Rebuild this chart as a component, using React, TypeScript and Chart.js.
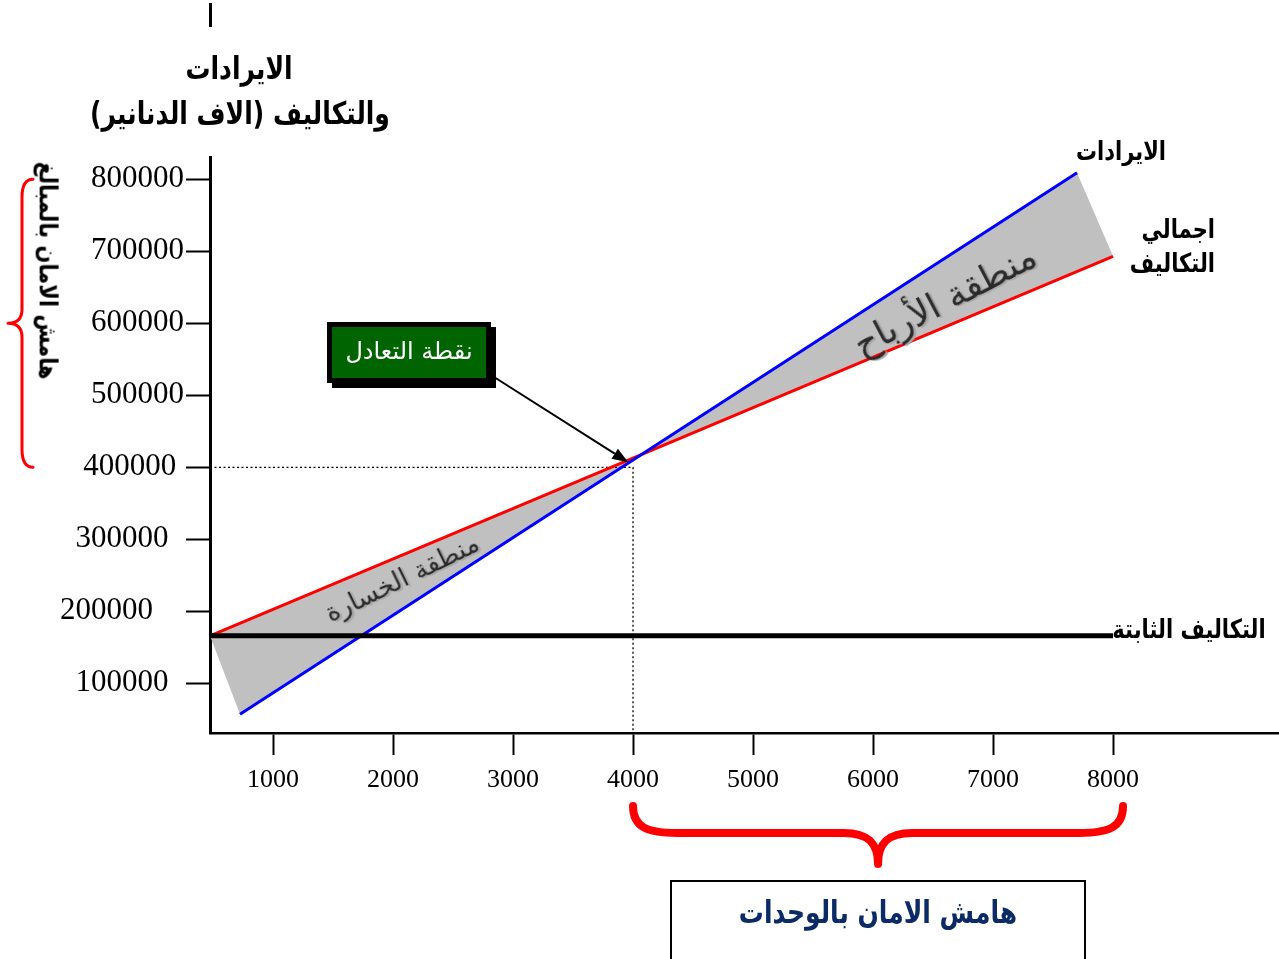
import React, { useEffect, useRef } from 'react';
import { Chart, registerables } from 'chart.js';

Chart.register(...registerables);

// ---------- data ----------
const unitTicks = [1000, 2000, 3000, 4000, 5000, 6000, 7000, 8000];
const unitTickLabels = ['1000', '2000', '3000', '4000', '5000', '6000', '7000', '8000'];
const valueTicks = [100000, 200000, 300000, 400000, 500000, 600000, 700000, 800000];
const valueTickLabels = ['100000', '200000', '300000', '400000', '500000', '600000', '700000', '800000'];

const unitsAxisRange = [475, 9383];
const valueAxisRange = [31000, 831000];

const revenueUnits = [725, 7700];
const revenueValues = [57000, 809000];
const totalCostUnits = [475, 8000];
const totalCostValues = [166000, 693000];
const fixedCostUnits = [475, 8000];
const fixedCostValues = [166000, 166000];

const breakEvenUnits = 4000;
const breakEvenValue = 400000;
const arrowTarget = [3960, 407000];
const safetyUnitsRange = [4000, 8000];
const safetyValueRange = [400000, 800000];

// ---------- helpers ----------
const pts = (xs: number[], ys: number[]) => xs.map((x, i) => ({ x, y: ys[i] }));

// trailing spaces that reproduce the uneven label offsets of the original
const yLabelShift: Record<number, number> = { 400000: 1, 300000: 2, 200000: 4, 100000: 2 };

const AR = '"DejaVu Sans", sans-serif';
const SERIF = '"Liberation Serif", "Times New Roman", serif';

const annotationPlugin = {
  id: 'bepAnnotations',
  afterDatasetsDraw(chart: any) {
    const { ctx, scales } = chart;
    const xs = scales.x;
    const ys = scales.y;
    ctx.save();
    // arrow from label box to break-even point
    const sx = 494;
    const sy = 377;
    const tx = xs.getPixelForValue(arrowTarget[0]);
    const ty = ys.getPixelForValue(arrowTarget[1]);
    const ang = Math.atan2(ty - sy, tx - sx);
    const headLen = 16;
    const headW = 6;
    const bx = tx - headLen * Math.cos(ang);
    const by = ty - headLen * Math.sin(ang);
    ctx.strokeStyle = '#000';
    ctx.lineWidth = 2;
    ctx.beginPath();
    ctx.moveTo(sx, sy);
    ctx.lineTo(bx, by);
    ctx.stroke();
    ctx.fillStyle = '#000';
    ctx.beginPath();
    ctx.moveTo(tx, ty);
    ctx.lineTo(bx + headW * Math.sin(ang), by - headW * Math.cos(ang));
    ctx.lineTo(bx - headW * Math.sin(ang), by + headW * Math.cos(ang));
    ctx.closePath();
    ctx.fill();
    ctx.restore();
  },
  afterDraw(chart: any) {
    const { ctx, scales } = chart;
    const xs = scales.x;
    const ys = scales.y;
    ctx.save();
    ctx.strokeStyle = '#ff0000';
    ctx.lineCap = 'round';
    ctx.lineJoin = 'round';
    // left brace (safety margin in value)
    const top = ys.getPixelForValue(safetyValueRange[1]);
    const bot = ys.getPixelForValue(safetyValueRange[0]);
    const mid = (top + bot) / 2;
    const xe = 33;
    const xsp = 22;
    const xt = 8;
    ctx.lineWidth = 3;
    ctx.beginPath();
    ctx.moveTo(xe, top);
    ctx.quadraticCurveTo(xsp, top, xsp, top + 18);
    ctx.lineTo(xsp, mid - 14);
    ctx.quadraticCurveTo(xsp, mid, xt, mid);
    ctx.quadraticCurveTo(xsp, mid, xsp, mid + 14);
    ctx.lineTo(xsp, bot - 18);
    ctx.quadraticCurveTo(xsp, bot, xe, bot);
    ctx.stroke();
    // bottom brace (safety margin in units)
    const l = xs.getPixelForValue(safetyUnitsRange[0]);
    const r = xs.getPixelForValue(safetyUnitsRange[1]) + 10;
    const m = (l + r) / 2;
    const yTop = 806;
    const yMid = 833;
    const yTip = 864;
    ctx.lineWidth = 8;
    ctx.beginPath();
    ctx.moveTo(l, yTop);
    ctx.bezierCurveTo(l, yMid - 6, l + 14, yMid, l + 44, yMid);
    ctx.lineTo(m - 34, yMid);
    ctx.bezierCurveTo(m - 10, yMid, m, yMid + 10, m, yTip);
    ctx.moveTo(m, yTip);
    ctx.bezierCurveTo(m, yMid + 10, m + 10, yMid, m + 34, yMid);
    ctx.lineTo(r - 44, yMid);
    ctx.bezierCurveTo(r - 14, yMid, r, yMid - 6, r, yTop);
    ctx.stroke();
    ctx.restore();
  },
};

function Text(props: { x: number; y: number; w: number; h?: number; size: number; bold?: boolean; color?: string; rot?: number; sy?: number; align?: 'center' | 'right' | 'left'; shadow?: string; children: React.ReactNode }) {
  const h = props.h ?? props.size * 1.4;
  const tf: string[] = [];
  if (props.rot) tf.push(`rotate(${props.rot}deg)`);
  if (props.sy) tf.push(`scaleY(${props.sy})`);
  return (
    <div
      dir="rtl"
      style={{
        position: 'absolute',
        left: props.x - props.w / 2,
        top: props.y - h / 2,
        width: props.w,
        height: h,
        lineHeight: h + 'px',
        fontFamily: AR,
        fontSize: props.size,
        fontWeight: props.bold ? 'bold' : 'normal',
        color: props.color ?? '#000',
        textAlign: props.align ?? 'center',
        whiteSpace: 'nowrap',
        transform: tf.length ? tf.join(' ') : undefined,
        transformOrigin: 'center center',
        textShadow: props.shadow,
      }}
    >
      {props.children}
    </div>
  );
}

export default function App() {
  const canvasRef = useRef<HTMLCanvasElement | null>(null);

  useEffect(() => {
    document.body.style.margin = '0';
    document.body.style.overflow = 'hidden';
    const canvas = canvasRef.current;
    if (!canvas) return;
    const zone = [
      { x: totalCostUnits[0], y: totalCostValues[0] },
      { x: revenueUnits[0], y: revenueValues[0] },
      { x: revenueUnits[1], y: revenueValues[1] },
      { x: totalCostUnits[1], y: totalCostValues[1] },
    ];
    const chart = new Chart(canvas, {
      type: 'line',
      data: {
        datasets: [
          { label: 'fixed', data: pts(fixedCostUnits, fixedCostValues), borderColor: '#000000', borderWidth: 5, pointRadius: 0, fill: false },
          { label: 'revenue', data: pts(revenueUnits, revenueValues), borderColor: '#0000ff', borderWidth: 3, pointRadius: 0, fill: false },
          { label: 'total', data: pts(totalCostUnits, totalCostValues), borderColor: '#ff0000', borderWidth: 3, pointRadius: 0, fill: false },
          {
            label: 'breakeven',
            data: [
              { x: unitsAxisRange[0], y: breakEvenValue },
              { x: breakEvenUnits, y: breakEvenValue },
              { x: breakEvenUnits, y: valueAxisRange[0] },
            ],
            borderColor: '#000000',
            borderWidth: 1.3,
            borderDash: [2, 2.5],
            pointRadius: 0,
            fill: false,
          },
          { label: 'zone', data: zone, borderColor: 'rgba(0,0,0,0)', borderWidth: 0, backgroundColor: '#c0c0c0', pointRadius: 0, fill: 'shape' },
        ],
      } as any,
      options: {
        responsive: false,
        maintainAspectRatio: false,
        animation: false,
        events: [],
        layout: { padding: { top: 157, left: 0, right: 0, bottom: 166 } },
        plugins: { legend: { display: false }, tooltip: { enabled: false } },
        scales: {
          x: {
            type: 'linear',
            min: unitsAxisRange[0],
            max: unitsAxisRange[1],
            afterBuildTicks: (s: any) => {
              s.ticks = unitTicks.map((v) => ({ value: v }));
            },
            afterFit: (s: any) => {
              s.height = 60;
            },
            grid: { drawOnChartArea: false, drawTicks: true, tickLength: 22, tickWidth: 2, tickColor: '#000' },
            border: { display: true, color: '#000', width: 2.5 },
            ticks: {
              autoSkip: false,
              maxRotation: 0,
              padding: 10,
              color: '#000',
              font: { family: SERIF, size: 26 },
              callback: (_v: any, i: number) => unitTickLabels[i],
            },
          },
          y: {
            type: 'linear',
            min: valueAxisRange[0],
            max: valueAxisRange[1],
            afterBuildTicks: (s: any) => {
              s.ticks = valueTicks.map((v) => ({ value: v }));
            },
            afterFit: (s: any) => {
              s.width = 210;
            },
            grid: { drawOnChartArea: false, drawTicks: true, tickLength: 24, tickWidth: 2, tickColor: '#000' },
            border: { display: true, color: '#000', width: 3 },
            ticks: {
              autoSkip: false,
              padding: 2,
              color: '#000',
              font: { family: SERIF, size: 31 },
              callback: (_v: any, i: number) => valueTickLabels[i] + ' '.repeat(yLabelShift[valueTicks[i]] ?? 0),
            },
          },
        },
      } as any,
      plugins: [annotationPlugin],
    });
    return () => chart.destroy();
  }, []);

  return (
    <div style={{ position: 'relative', width: 1279, height: 959, overflow: 'hidden', background: '#fff' }}>
      <canvas ref={canvasRef} width={1279} height={959} style={{ position: 'absolute', left: 0, top: 0, width: 1279, height: 959 }} />
      {/* stray mark of the original */}
      <div style={{ position: 'absolute', left: 209, top: 3, width: 3, height: 24, background: '#000' }} />
      {/* axis title */}
      <Text x={239} y={68} w={300} size={25} bold sy={1.25}>الايرادات</Text>
      <Text x={240} y={113} w={360} size={25} bold sy={1.25}>والتكاليف (الاف الدنانير)</Text>
      {/* left rotated label */}
      <Text x={47} y={271} w={260} size={21} bold rot={90} sy={1.2}>هامش الامان بالمبالغ</Text>
      {/* right labels */}
      <Text x={1121} y={152} w={140} size={21} bold sy={1.25}>الايرادات</Text>
      <Text x={1165} y={230} w={100} size={21} bold sy={1.25} align="right">اجمالي</Text>
      <Text x={1165} y={264} w={100} size={21} bold sy={1.25} align="right">التكاليف</Text>
      <Text x={1189} y={630} w={170} size={21} bold sy={1.25}>التكاليف الثابتة</Text>
      {/* zone labels */}
      <Text x={945} y={300} w={320} size={36} rot={-27.7} color="#2a2a2a" shadow="2px 2px 0 #a9a9a9">منطقة الأرباح</Text>
      <Text x={402} y={578} w={240} size={26} rot={-26} color="#2a2a2a" shadow="2px 2px 0 #a9a9a9">منطقة الخسارة</Text>
      {/* break-even box */}
      <div
        dir="rtl"
        style={{
          position: 'absolute',
          left: 327,
          top: 322,
          width: 164,
          height: 61,
          boxSizing: 'border-box',
          border: '5px solid #000',
          boxShadow: '5px 5px 0 #000',
          background: '#006400',
          color: '#fff',
          fontFamily: AR,
          fontSize: 24,
          lineHeight: '49px',
          textAlign: 'center',
          whiteSpace: 'nowrap',
        }}
      >
        نقطة التعادل
      </div>
      {/* safety margin in units box */}
      <div
        style={{
          position: 'absolute',
          left: 670,
          top: 880,
          width: 416,
          height: 120,
          boxSizing: 'border-box',
          border: '2px solid #000',
        }}
      />
      <Text x={878} y={912} w={400} size={25} bold sy={1.25} color="#0b2a66">هامش الامان بالوحدات</Text>
    </div>
  );
}
